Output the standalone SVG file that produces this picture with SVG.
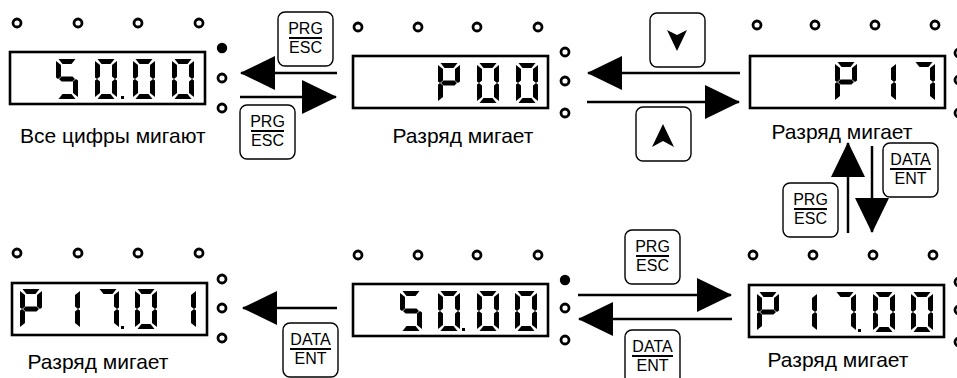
<svg xmlns="http://www.w3.org/2000/svg" xmlns:xlink="http://www.w3.org/1999/xlink" width="957" height="378" viewBox="0 0 957 378">
  <style>
    .box { fill: #fff; stroke: #000; stroke-width: 2.6; }
    .led { fill: #fff; stroke: #000; stroke-width: 2.8; }
    .led-on { fill: #000; }
    .seg { fill: #000; }
    .key { fill: #fff; stroke: #000; stroke-width: 1.4; }
    .key-text { font-family: "Liberation Sans", Arial, sans-serif; font-size: 16px; fill: #000; text-anchor: middle; }
    .bar { stroke: #000; stroke-width: 2; }
    .caption { font-family: "Liberation Sans", Arial, sans-serif; font-size: 21px; fill: #000; }
    .wire { stroke: #000; stroke-width: 2.5; fill: none; }
    .head { fill: #000; }
  </style>
  <defs>
    <!-- seven-segment pieces, cell 22 x 40 -->
    <path id="sa" class="seg" d="M2.5,0 H19.5 L15.5,5 H6.5 Z"/>
    <path id="sb" class="seg" d="M22,2 V18.5 L20,20 L17,17.5 V6 Z"/>
    <path id="sc" class="seg" d="M22,21.5 V38 L17,34 V22.5 L20,20 Z"/>
    <path id="sd" class="seg" d="M6.5,35 H15.5 L19.5,40 H2.5 Z"/>
    <path id="se" class="seg" d="M0,21.5 L2,20 L5,22.5 V34 L0,38 Z"/>
    <path id="sf" class="seg" d="M0,2 L5,6 V17.5 L2,20 L0,18.5 Z"/>
    <path id="sg" class="seg" d="M3,20 L5.5,17.5 H16.5 L19,20 L16.5,22.5 H5.5 Z"/>
    <g id="d0"><use href="#sa"/><use href="#sb"/><use href="#sc"/><use href="#sd"/><use href="#se"/><use href="#sf"/></g>
    <g id="d1"><use href="#sb"/><use href="#sc"/></g>
    <g id="d5"><use href="#sa"/><use href="#sf"/><use href="#sg"/><use href="#sc"/><use href="#sd"/></g>
    <g id="d7"><use href="#sa"/><use href="#sb"/><use href="#sc"/></g>
    <g id="dP"><use href="#sa"/><use href="#sb"/><use href="#sf"/><use href="#sg"/><use href="#se"/></g>
    <rect id="dp" class="seg" width="3" height="3"/>
    <rect id="frame" class="box" width="195" height="52"/>
    <rect id="keycap" class="key" width="55" height="54" rx="7"/>
    <marker id="arrow" markerUnits="userSpaceOnUse" markerWidth="36" markerHeight="34" refX="34" refY="17" orient="auto" viewBox="0 0 36 34">
      <path class="head" d="M0,0 L35,17 L0,34 Z"/>
    </marker>
  </defs>

  <!-- display: 50.00, all digits blinking -->
  <g id="disp-all-blink">
    <circle class="led" cx="17" cy="23" r="4"/>
    <circle class="led" cx="78" cy="23" r="4"/>
    <circle class="led" cx="138" cy="23" r="4"/>
    <circle class="led" cx="199" cy="23" r="4"/>
    <circle class="led-on" cx="222" cy="48" r="5.2"/>
    <circle class="led" cx="222" cy="78" r="4"/>
    <circle class="led" cx="222" cy="108" r="4"/>
    <use href="#frame" x="10" y="52"/>
    <use href="#d5" x="56" y="59"/>
    <use href="#d0" x="95" y="59"/>
    <use href="#dp" x="121" y="96"/>
    <use href="#d0" x="133" y="59"/>
    <use href="#d0" x="172" y="59"/>
    <text class="caption" x="20" y="143">Все цифры мигают</text>
  </g>

  <!-- display: P00 -->
  <g id="disp-p00">
    <circle class="led" cx="358" cy="27" r="4"/>
    <circle class="led" cx="418" cy="27" r="4"/>
    <circle class="led" cx="477" cy="27" r="4"/>
    <circle class="led" cx="538" cy="27" r="4"/>
    <circle class="led" cx="565" cy="52" r="4"/>
    <circle class="led" cx="565" cy="81" r="4"/>
    <circle class="led" cx="565" cy="113" r="4"/>
    <use href="#frame" x="353" y="56"/>
    <use href="#dP" x="438" y="63"/>
    <use href="#d0" x="477" y="63"/>
    <use href="#d0" x="516" y="63"/>
    <text class="caption" x="463" y="143" text-anchor="middle">Разряд мигает</text>
  </g>

  <!-- display: P 17 -->
  <g id="disp-p17">
    <circle class="led" cx="757" cy="25" r="4"/>
    <circle class="led" cx="815" cy="25" r="4"/>
    <circle class="led" cx="875" cy="25" r="4"/>
    <circle class="led" cx="935" cy="25" r="4"/>
    <circle class="led" cx="959" cy="53" r="4"/>
    <circle class="led" cx="959" cy="80" r="4"/>
    <circle class="led" cx="959" cy="113" r="4"/>
    <use href="#frame" x="750" y="56"/>
    <use href="#dP" x="835" y="62"/>
    <use href="#d1" x="874" y="62"/>
    <use href="#d7" x="913" y="62"/>
    <text class="caption" x="842" y="139" text-anchor="middle">Разряд мигает</text>
  </g>

  <!-- display: P 17.01 -->
  <g id="disp-p1701">
    <circle class="led" cx="17" cy="253" r="4"/>
    <circle class="led" cx="78" cy="253" r="4"/>
    <circle class="led" cx="138" cy="253" r="4"/>
    <circle class="led" cx="199" cy="253" r="4"/>
    <circle class="led" cx="222" cy="279" r="4"/>
    <circle class="led" cx="222" cy="308" r="4"/>
    <circle class="led" cx="222" cy="338" r="4"/>
    <use href="#frame" x="12" y="283"/>
    <use href="#dP" x="20" y="289"/>
    <use href="#d1" x="58" y="289"/>
    <use href="#d7" x="97" y="289"/>
    <use href="#dp" x="121" y="326"/>
    <use href="#d0" x="135" y="289"/>
    <use href="#d1" x="174" y="289"/>
    <text class="caption" x="98" y="369" text-anchor="middle">Разряд мигает</text>
  </g>

  <!-- display: 50.00 -->
  <g id="disp-5000">
    <circle class="led" cx="358" cy="255" r="4"/>
    <circle class="led" cx="418" cy="255" r="4"/>
    <circle class="led" cx="477" cy="255" r="4"/>
    <circle class="led" cx="538" cy="255" r="4"/>
    <circle class="led-on" cx="565" cy="280" r="5.2"/>
    <circle class="led" cx="565" cy="308" r="4"/>
    <circle class="led" cx="565" cy="340" r="4"/>
    <use href="#frame" x="353" y="284"/>
    <use href="#d5" x="400" y="291"/>
    <use href="#d0" x="438" y="291"/>
    <use href="#dp" x="462" y="328"/>
    <use href="#d0" x="477" y="291"/>
    <use href="#d0" x="515" y="291"/>
  </g>

  <!-- display: P 17.00 -->
  <g id="disp-p1700">
    <circle class="led" cx="753" cy="255" r="4"/>
    <circle class="led" cx="813" cy="255" r="4"/>
    <circle class="led" cx="873" cy="255" r="4"/>
    <circle class="led" cx="933" cy="255" r="4"/>
    <circle class="led" cx="959" cy="282" r="4"/>
    <circle class="led" cx="959" cy="310" r="4"/>
    <circle class="led" cx="959" cy="342" r="4"/>
    <use href="#frame" x="749" y="285"/>
    <use href="#dP" x="757" y="292"/>
    <use href="#d1" x="795" y="292"/>
    <use href="#d7" x="834" y="292"/>
    <use href="#dp" x="858" y="329"/>
    <use href="#d0" x="873" y="292"/>
    <use href="#d0" x="911" y="292"/>
    <text class="caption" x="838" y="367" text-anchor="middle">Разряд мигает</text>
  </g>

  <!-- keys -->
  <g id="key-prg-1">
    <use href="#keycap" x="278" y="12"/>
    <text class="key-text" x="305.5" y="34">PRG</text>
    <line class="bar" x1="289" y1="38" x2="322" y2="38"/>
    <text class="key-text" x="305.5" y="53">ESC</text>
  </g>
  <g id="key-prg-2">
    <use href="#keycap" x="240" y="105"/>
    <text class="key-text" x="267.5" y="127">PRG</text>
    <line class="bar" x1="251" y1="131" x2="284" y2="131"/>
    <text class="key-text" x="267.5" y="146">ESC</text>
  </g>
  <g id="key-down">
    <use href="#keycap" x="650" y="13"/>
    <path class="head" d="M667,30 L677,35 L687,30 L677,51 Z"/>
  </g>
  <g id="key-up">
    <use href="#keycap" x="636" y="107"/>
    <path class="head" d="M663,124 L674,147 L663,141 L652,147 Z"/>
  </g>
  <g id="key-data-1">
    <use href="#keycap" x="883" y="143"/>
    <text class="key-text" x="910.5" y="165">DATA</text>
    <line class="bar" x1="890" y1="169" x2="931" y2="169"/>
    <text class="key-text" x="910.5" y="184">ENT</text>
  </g>
  <g id="key-prg-3">
    <use href="#keycap" x="783" y="183"/>
    <text class="key-text" x="810.5" y="205">PRG</text>
    <line class="bar" x1="794" y1="209" x2="827" y2="209"/>
    <text class="key-text" x="810.5" y="224">ESC</text>
  </g>
  <g id="key-data-2">
    <use href="#keycap" x="283" y="323"/>
    <text class="key-text" x="310.5" y="345">DATA</text>
    <line class="bar" x1="290" y1="349" x2="331" y2="349"/>
    <text class="key-text" x="310.5" y="364">ENT</text>
  </g>
  <g id="key-prg-4">
    <use href="#keycap" x="625" y="230"/>
    <text class="key-text" x="652.5" y="252">PRG</text>
    <line class="bar" x1="636" y1="256" x2="669" y2="256"/>
    <text class="key-text" x="652.5" y="271">ESC</text>
  </g>
  <g id="key-data-3">
    <use href="#keycap" x="625" y="330"/>
    <text class="key-text" x="652.5" y="352">DATA</text>
    <line class="bar" x1="632" y1="356" x2="673" y2="356"/>
    <text class="key-text" x="652.5" y="371">ENT</text>
  </g>

  <!-- connectors -->
  <g id="connectors">
    <line class="wire" x1="337" y1="73" x2="241" y2="73" marker-end="url(#arrow)"/>
    <line class="wire" x1="240" y1="97" x2="336" y2="97" marker-end="url(#arrow)"/>
    <line class="wire" x1="740" y1="73" x2="588" y2="73" marker-end="url(#arrow)"/>
    <line class="wire" x1="587" y1="102" x2="739" y2="102" marker-end="url(#arrow)"/>
    <line class="wire" x1="848" y1="233" x2="848" y2="143" marker-end="url(#arrow)"/>
    <line class="wire" x1="872" y1="146" x2="872" y2="232" marker-end="url(#arrow)"/>
    <line class="wire" x1="337" y1="308" x2="243" y2="308" marker-end="url(#arrow)"/>
    <line class="wire" x1="578" y1="295" x2="731" y2="295" marker-end="url(#arrow)"/>
    <line class="wire" x1="732" y1="319" x2="579" y2="319" marker-end="url(#arrow)"/>
  </g>
</svg>
